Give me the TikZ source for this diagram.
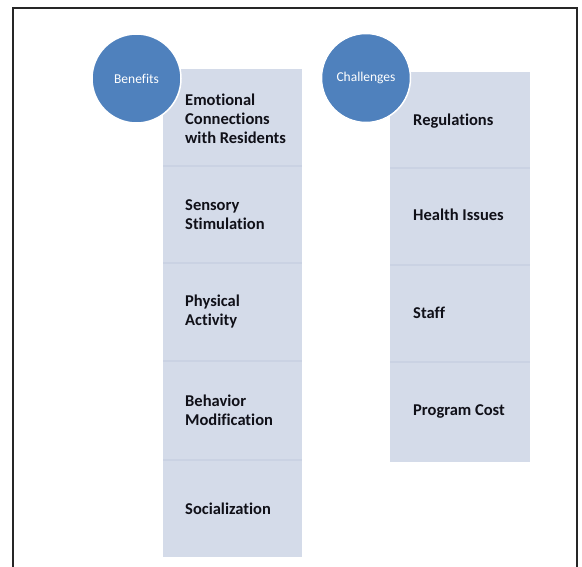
\documentclass[tikz,border=0pt]{standalone}
\usepackage{fontspec}
\setmainfont{Carlito}[Ligatures=NoCommon]
\definecolor{circblue}{HTML}{4F81BD}
\definecolor{panel}{HTML}{D4DBE9}
\definecolor{panelsep}{HTML}{CAD2E3}
\definecolor{inktext}{HTML}{101018}
\begin{document}
\begin{tikzpicture}[x=1pt,y=-1pt,
  panelbox/.style={fill=panel,draw=none},
  sepline/.style={draw=panelsep,line width=2pt},
  itemtext/.style={anchor=west,align=left,text=inktext,inner sep=0pt,
    font=\fontsize{16.5}{19}\selectfont\bfseries},
  headcirc/.style={circle,fill=circblue,draw=white,line width=1.5pt,
    minimum size=89pt,inner sep=0pt,text=white,font=\fontsize{13.5}{15}\selectfont}]
\useasboundingbox (0,0) rectangle (582,567);
% outer frame (its lower edge lies below the page)
\begin{scope}
\clip (0,0) rectangle (582,567);
\draw[line width=1.8pt,black!85] (13,8) rectangle (577,600);
\end{scope}

% benefits column
\fill[panelbox] (163,69) rectangle (302,557);
\foreach \y in {166.5,263.5,361,459.5}
  \draw[sepline] (163,\y) -- (302,\y);
\node[headcirc] (benefits) at (136.5,78.5) {Benefits};
\node[itemtext] (b1) at (185,119) {Emotional\\Connections\\with Residents};
\node[itemtext] (b2) at (185,214.5) {Sensory\\Stimulation};
\node[itemtext] (b3) at (185,312) {Physical\\Activity};
\node[itemtext] (b4) at (185,410.5) {Behavior\\Modification};
\node[itemtext] (b5) at (185,509) {Socialization};

% challenges column
\fill[panelbox] (390,72) rectangle (530,462);
\foreach \y in {168.5,265,362}
  \draw[sepline] (390,\y) -- (530,\y);
\node[headcirc] (challenges) at (366,78) {Challenges};
\node[itemtext] (c1) at (413,121.5) {Regulations};
\node[itemtext] (c2) at (413,214.5) {Health Issues};
\node[itemtext] (c3) at (413,312.5) {Staff};
\node[itemtext] (c4) at (413,411.5) {Program Cost};
\end{tikzpicture}
\end{document}
